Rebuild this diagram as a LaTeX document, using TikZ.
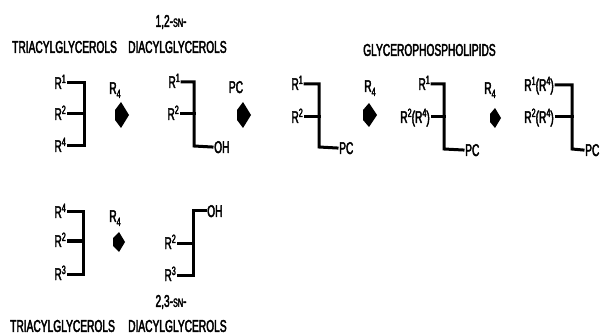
\documentclass[tikz,border=0pt]{standalone}
\usepackage{fontspec}
\newfontfamily\cond[FakeStretch=0.6,FakeBold=2.5]{Liberation Sans}
\newcommand\rsup[1]{\raisebox{6pt}{\fontsize{12}{12}\selectfont #1}}
\newcommand\rsub[1]{\raisebox{-4pt}{\fontsize{12}{12}\selectfont #1}}
\begin{document}
\begin{tikzpicture}[x=1pt,y=-1pt,
  txt/.style={font=\cond\fontsize{17}{17}\selectfont, inner sep=1pt},
  lbl/.style={txt, text height=12pt, text depth=0pt, inner sep=2pt},
  bond/.style={line width=3pt, line cap=rect, line join=miter},
  arrowhead/.style={fill=black}]
\useasboundingbox (0,0) rectangle (609,336);
% headings
\node[txt] (h12) at (171,22) {1,2-{\fontsize{12}{12}\selectfont SN}-};
\node[txt, anchor=west] (hT1) at (11,47) {TRIACYLGLYCEROLS};
\node[txt, anchor=west] (hD1) at (127,47) {DIACYLGLYCEROLS};
\node[txt, anchor=west] (hG) at (362,50) {GLYCEROPHOSPHOLIPIDS};
\node[txt] (h23) at (171,302) {2,3-{\fontsize{12}{12}\selectfont SN}-};
\node[txt, anchor=west] (hT2) at (9,326) {TRIACYLGLYCEROLS};
\node[txt, anchor=west] (hD2) at (127,326) {DIACYLGLYCEROLS};

% structure 1 (TAG top)
\node[lbl, anchor=east] (a1) at (68,83) {R\rsup{1}};
\node[lbl, anchor=east] (a2) at (68,114) {R\rsup{2}};
\node[lbl, anchor=east] (a3) at (68,146) {R\rsup{4}};
\coordinate (a1v) at (84,83); \coordinate (a2v) at (84,114); \coordinate (a3v) at (84,146);
\draw[bond] (a1.east) -- (a1v) -- (a3v) -- (a3.east);
\draw[bond] (a2.east) -- (a2v);

% arrow 1
\node[lbl] (l1) at (115,88) {R\rsub{4}};
\fill[arrowhead, shift={(122,115)}] (-7,-5) -- (-1,-13) -- (7,0) -- (-1,13) -- (-7,5) -- cycle;

% structure 2 (1,2-DAG)
\node[lbl, anchor=east] (b1) at (182,82) {R\rsup{1}};
\node[lbl, anchor=east] (b2) at (181,114) {R\rsup{2}};
\node[lbl, anchor=west] (b3) at (212,147) {OH};
\coordinate (b1v) at (194,82); \coordinate (b2v) at (194,114); \coordinate (b3v) at (194,146);
\draw[bond] (b1.east) -- (b1v) -- (b3v) -- (b3.west);
\draw[bond] (b2.east) -- (b2v);

% arrow 2
\node[lbl] (l2) at (236,87) {PC};
\fill[arrowhead, shift={(244,115)}] (-7,-5) -- (-1,-13) -- (7,0) -- (-1,13) -- (-7,5) -- cycle;

% structure 3
\node[lbl, anchor=east] (c1) at (305,84) {R\rsup{1}};
\node[lbl, anchor=east] (c2) at (305,117) {R\rsup{2}};
\node[lbl, anchor=west] (c3) at (337,148) {PC};
\coordinate (c1v) at (319,84); \coordinate (c2v) at (319,117); \coordinate (c3v) at (319,147);
\draw[bond] (c1.east) -- (c1v) -- (c3v) -- (c3.west);
\draw[bond] (c2.east) -- (c2v);

% arrow 3
\node[lbl] (l3) at (370,86) {R\rsub{4}};
\fill[arrowhead, shift={(370,115)}] (-7,-5) -- (-1,-12) -- (7,0) -- (-1,12) -- (-7,5) -- cycle;

% structure 4
\node[lbl, anchor=east] (d1) at (432,84) {R\rsup{1}};
\node[lbl, anchor=east] (d2) at (432,117) {R\rsup{2}(R\rsup{4})};
\node[lbl, anchor=west] (d3) at (463,150) {PC};
\coordinate (d1v) at (444,84); \coordinate (d2v) at (444,117); \coordinate (d3v) at (444,149);
\draw[bond] (d1.east) -- (d1v) -- (d3v) -- (d3.west);
\draw[bond] (d2.east) -- (d2v);

% arrow 4
\node[lbl] (l4) at (490,88) {R\rsub{4}};
\fill[arrowhead, shift={(495,118)}] (-5,-4) -- (0,-10) -- (6,0) -- (0,10) -- (-5,4) -- cycle;

% structure 5
\node[lbl, anchor=east] (e1) at (556,85) {R\rsup{1}(R\rsup{4})};
\node[lbl, anchor=east] (e2) at (556,117) {R\rsup{2}(R\rsup{4})};
\node[lbl, anchor=west] (e3) at (583,150) {PC};
\coordinate (e1v) at (572,85); \coordinate (e2v) at (572,117); \coordinate (e3v) at (572,149);
\draw[bond] (e1.east) -- (e1v) -- (e3v) -- (e3.west);
\draw[bond] (e2.east) -- (e2v);

% bottom structure 1 (TAG)
\node[lbl, anchor=east] (f1) at (68,212) {R\rsup{4}};
\node[lbl, anchor=east] (f2) at (68,241) {R\rsup{2}};
\node[lbl, anchor=east] (f3) at (68,274) {R\rsup{3}};
\coordinate (f1v) at (83,212); \coordinate (f2v) at (83,241); \coordinate (f3v) at (83,274);
\draw[bond] (f1.east) -- (f1v) -- (f3v) -- (f3.east);
\draw[bond] (f2.east) -- (f2v);

% bottom arrow
\node[lbl] (l5) at (115,216) {R\rsub{4}};
\fill[arrowhead, shift={(119,242)}] (-6,-4) -- (0,-10) -- (6,0) -- (0,10) -- (-6,4) -- cycle;

% bottom structure 2 (2,3-DAG)
\node[lbl, anchor=west] (g1) at (205,211) {OH};
\node[lbl, anchor=east] (g2) at (178,243) {R\rsup{2}};
\node[lbl, anchor=east] (g3) at (178,275) {R\rsup{3}};
\coordinate (g1v) at (193,211); \coordinate (g2v) at (193,243); \coordinate (g3v) at (193,275);
\draw[bond] (g1.west) -- (g1v) -- (g3v) -- (g3.east);
\draw[bond] (g2.east) -- (g2v);
\end{tikzpicture}
\end{document}
